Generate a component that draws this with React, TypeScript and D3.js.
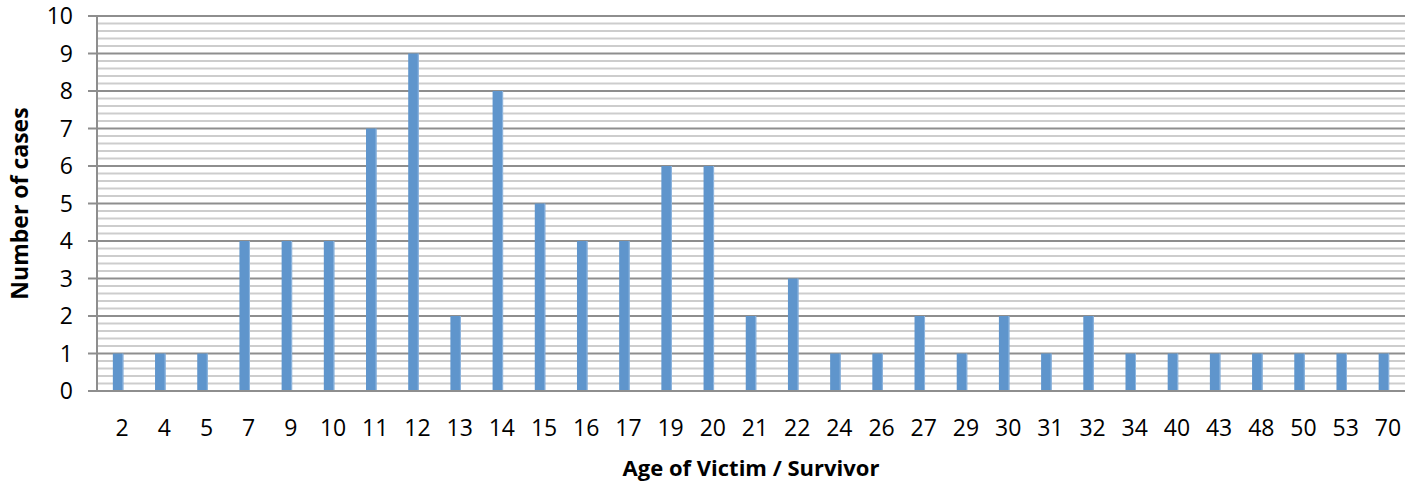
import React from "react";
import * as d3 from "d3";

const ages = ["2","4","5","7","9","10","11","12","13","14","15","16","17","19","20","21","22","24","26","27","29","30","31","32","34","40","43","48","50","53","70"];
const cases = [1,1,1,4,4,4,7,9,2,8,5,4,4,6,6,2,3,1,1,2,1,2,1,2,1,1,1,1,1,1,1];
const yTicks = [0,1,2,3,4,5,6,7,8,9,10];
const xTitle = "Age of Victim / Survivor";
const yTitle = "Number of cases";

const W = 1415, H = 481;
const left = 97, right = 1405, top = 16, bottom = 391;
const FONT = "'Open Sans', sans-serif";

export default function App() {
  const x = d3.scaleBand<string>().domain(ages).range([left, right]).padding(0);
  const y = d3.scaleLinear().domain([0, 10]).range([bottom, top]);
  const minor = d3.range(0, 10.001, 0.2).filter(v => Math.abs(v - Math.round(v)) > 1e-6);
  const barW = 10.5;
  return (
    <svg width={W} height={H} style={{ position: "absolute", left: 0, top: 0, background: "#fff" }}>
      {minor.map((v, i) => (
        <line key={"m" + i} x1={left} x2={right} y1={y(v)} y2={y(v)} stroke="#cdcdcd" strokeWidth={2} />
      ))}
      {yTicks.map(v => (
        <line key={"g" + v} x1={left - 9} x2={right} y1={y(v)} y2={y(v)} stroke="#8e8e8e" strokeWidth={2} />
      ))}
      <line x1={left} x2={left} y1={top} y2={bottom} stroke="#8e8e8e" strokeWidth={2} />
      {ages.map((a, i) => {
        const cx = (x(a) as number) + x.bandwidth() / 2;
        return (
          <g key={"b" + a}>
            <rect x={cx - barW / 2} y={y(cases[i])} width={barW} height={bottom - y(cases[i]) - 1} fill="#5f95cc" />
            <rect x={cx + barW / 2 - 1} y={y(cases[i])} width={1} height={bottom - y(cases[i]) - 1} fill="#8fb6df" />
          </g>
        );
      })}
      {yTicks.map(v => (
        <text key={"t" + v} x={73} y={y(v)} dy="0.36em" textAnchor="end" fontFamily={FONT} fontSize={23} fill="#000">{v}</text>
      ))}
      {ages.map(a => (
        <text key={"l" + a} x={(x(a) as number) + x.bandwidth() / 2 + 4} y={427.5} dy="0.36em" textAnchor="middle" fontFamily={FONT} fontSize={23} fill="#000">{a}</text>
      ))}
      <text x={(left + right) / 2} y={468} dy="0.36em" textAnchor="middle" fontFamily={FONT} fontSize={22} fontWeight="bold" fill="#000">{xTitle}</text>
      <text transform={`translate(20,${(top + bottom) / 2}) rotate(-90)`} dy="0.36em" textAnchor="middle" fontFamily={FONT} fontSize={23} fontWeight="bold" fill="#000">{yTitle}</text>
    </svg>
  );
}
